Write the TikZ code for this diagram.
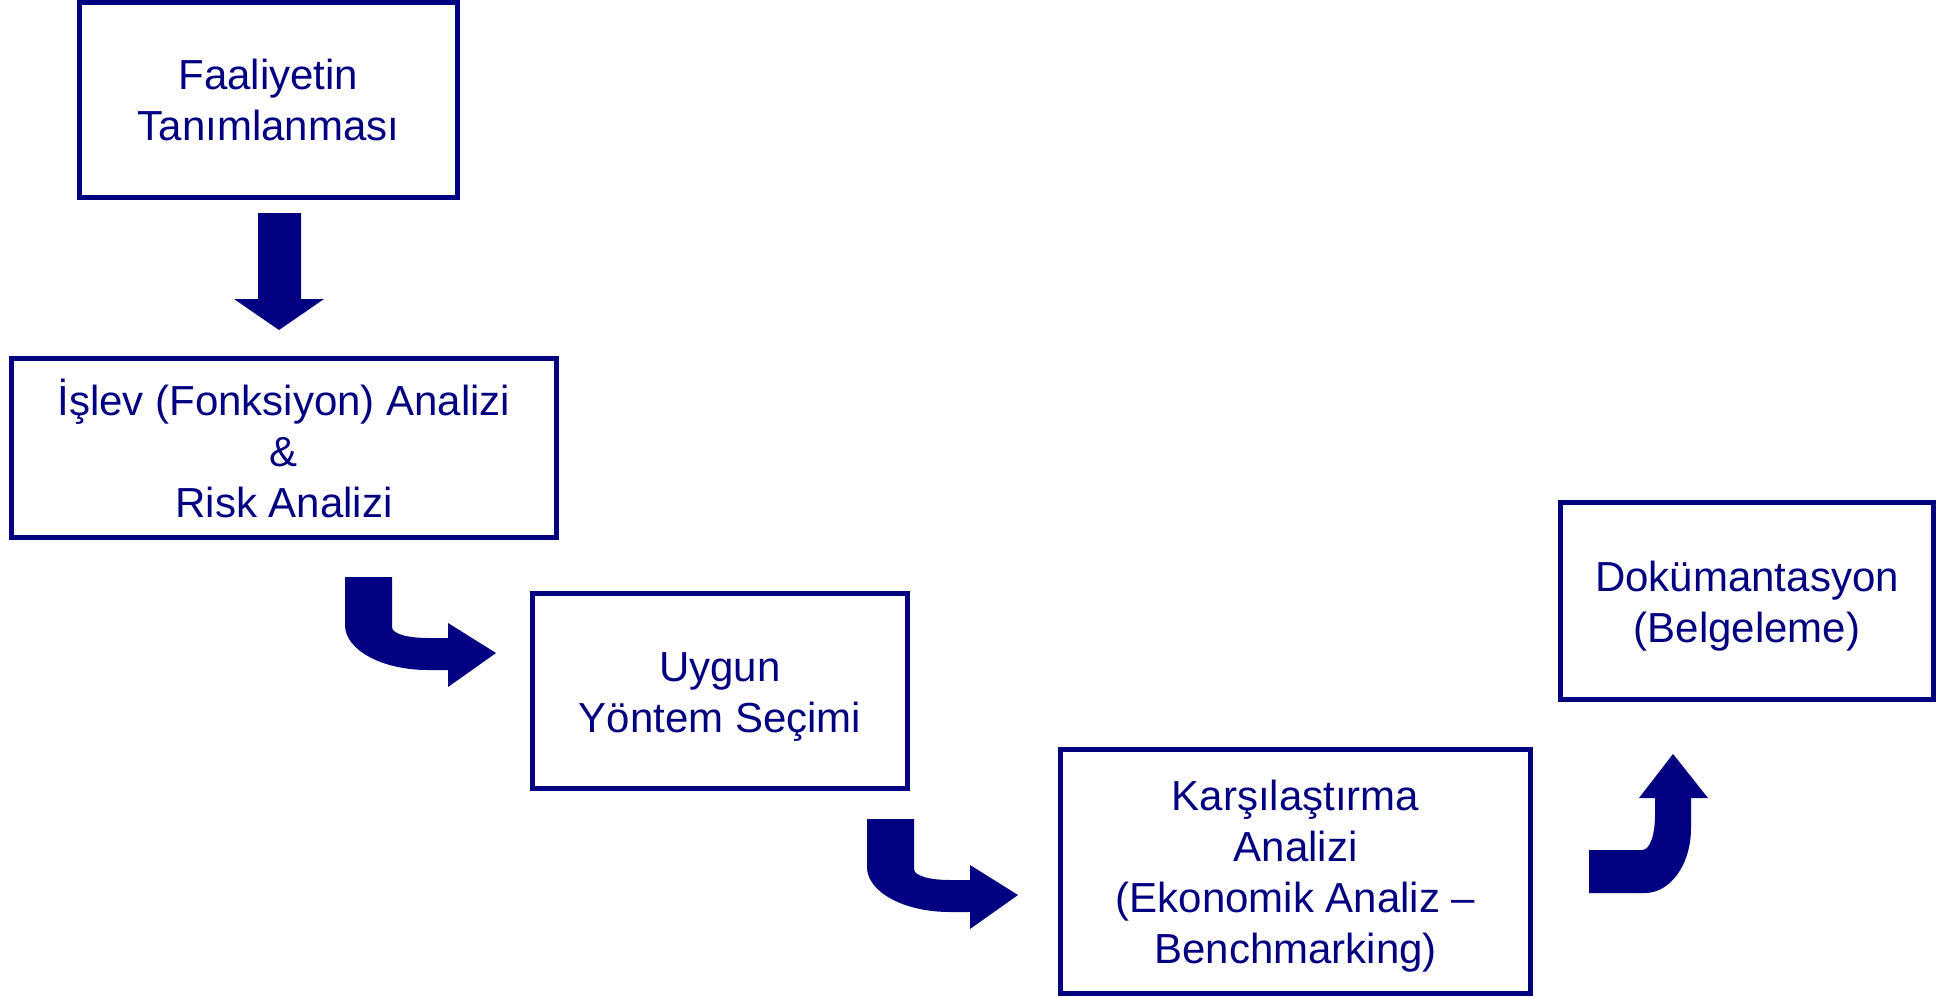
\documentclass[tikz,border=0pt]{standalone}
\usepackage{fontspec}
\setmainfont{Liberation Sans}
\definecolor{navyblue}{RGB}{0,0,128}
\begin{document}
\begin{tikzpicture}[x=1pt,y=-1pt,
  box/.style={draw=navyblue,line width=5pt,inner sep=0pt},
  txt/.style={text=navyblue,align=center,inner sep=0pt,font=\fontsize{42}{51}\selectfont},
  blockarrow/.style={fill=navyblue,draw=none}]
\useasboundingbox (0,0) rectangle (1957,996);
\node[box,minimum width=378pt,minimum height=195pt] (b1) at (268.5,100) {};
\node[txt] (t1) at (b1.center) {Faaliyetin\\Tanımlanması};
\node[box,minimum width=545pt,minimum height=179pt] (b2) at (284,448) {};
\node[txt] (t2) at (b2.center) {İşlev (Fonksiyon) Analizi\\\&\\Risk Analizi};
\node[box,minimum width=375pt,minimum height=195pt] (b3) at (720,691) {};
\node[txt] (t3) at ([yshift=-6pt]b3.center) {Uygun\\Yöntem Seçimi};
\node[box,minimum width=470pt,minimum height=244pt] (b4) at (1295.5,871) {};
\node[txt] (t4) at ([yshift=-5pt]b4.center) {Karşılaştırma\\Analizi\\(Ekonomik Analiz –\\Benchmarking)};
\node[box,minimum width=373pt,minimum height=197pt] (b5) at (1747,600.5) {};
\node[txt] (t5) at ([yshift=-6pt]b5.center) {Dokümantasyon\\(Belgeleme)};
% down arrow
\fill[blockarrow] (258,213) -- (301,213) -- (301,299) -- (324,299) -- (279,330) -- (234,299) -- (258,299) -- cycle;
% bent arrows right
\foreach \dx/\dy in {0/0,522/242}{
\fill[blockarrow,shift={(\dx,\dy)}] (345,577) -- (392,577) -- (392,627)
  .. controls (392,634) and (408,638) .. (428,638) -- (448,638) -- (448,623) -- (496,653)
  -- (448,687) -- (448,670) -- (428,670)
  .. controls (382,670) and (345,650) .. (345,625) -- cycle;
}
% bent arrow up
\fill[blockarrow] (1589,850) -- (1642,850) .. controls (1650,850) and (1655,835) .. (1655,815)
  -- (1655,798) -- (1639,798) -- (1673,754) -- (1708,798) -- (1691,798) -- (1691,828)
  .. controls (1691,865) and (1670,893) .. (1645,893) -- (1589,893) -- cycle;
\end{tikzpicture}
\end{document}
